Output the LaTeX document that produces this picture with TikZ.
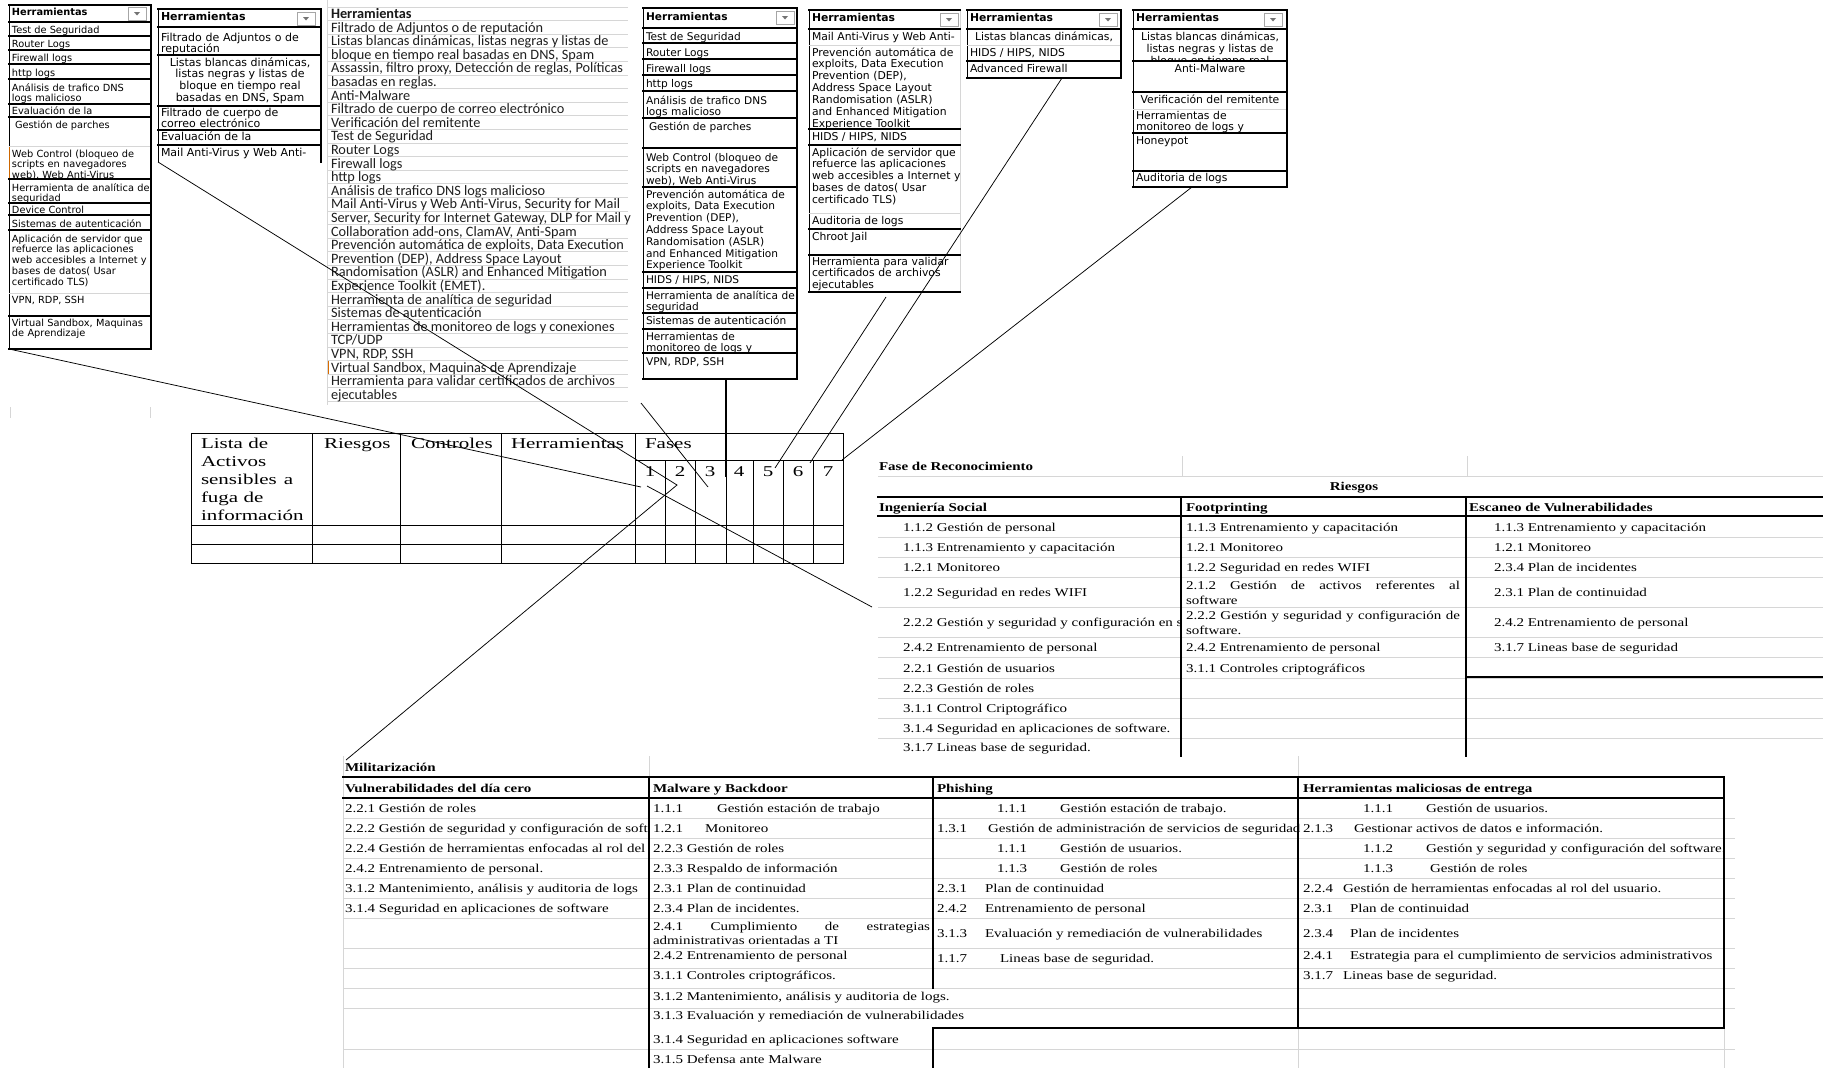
\documentclass[tikz,border=0pt]{standalone}
\usepackage{fontspec}
\setmainfont{Liberation Serif}
\newfontfamily\pf{DejaVu Sans}
\newfontfamily\cf{Carlito}
\newfontfamily\rtf[FakeStretch=1.25]{Liberation Serif}
\newfontfamily\ctf[FakeStretch=1.4]{Liberation Serif}
\newcounter{nn}
\newcommand\tx[4][]{\stepcounter{nn}\edef\nname{n\arabic{nn}}\node[txt,#1] (\nname) at ({#2},{#3}) {#4};}
\newcommand\ddb[2]{\draw[draw=black!35,fill=white,line width=0.6pt] (#1,#2) rectangle ++(18,13);
  \fill[black!55] ({#1+6},{#2+5}) -- ++(6,0) -- ++(-3,3.5) -- cycle;}
\tikzset{
  txt/.style={anchor=base west,inner sep=0pt,outer sep=0pt},
  ml/.style={text width=300pt,align=left},
  thk/.style={line width=1.5pt,line cap=rect},
  thk2/.style={line width=2pt,line cap=rect},
  thn/.style={line width=0.8pt},
  gl/.style={draw=black!16,line width=0.7pt},
  conn/.style={line width=0.75pt,draw=black},
  p1/.style={font=\pf\fontsize{9.8}{10.9}\selectfont},
  p1b/.style={font=\pf\bfseries\fontsize{9.8}{10.9}\selectfont},
  p2/.style={font=\pf\fontsize{11}{11.8}\selectfont},
  p2b/.style={font=\pf\bfseries\fontsize{11}{11.8}\selectfont},
  p4/.style={font=\pf\fontsize{10.6}{11.8}\selectfont},
  p4b/.style={font=\pf\bfseries\fontsize{10.6}{11.8}\selectfont},
  p5/.style={font=\pf\fontsize{10.8}{11.9}\selectfont},
  p5b/.style={font=\pf\bfseries\fontsize{10.8}{11.9}\selectfont},
  p3/.style={font=\cf\fontsize{14.3}{16}\selectfont,text=black!88},
  p3b/.style={font=\cf\bfseries\fontsize{14.3}{16}\selectfont,text=black!90},
  rt/.style={font=\rtf\fontsize{12}{15}\selectfont},
  rtb/.style={font=\rtf\bfseries\fontsize{12}{15}\selectfont},
  ct/.style={font=\ctf\fontsize{15}{18}\selectfont},
}
\begin{document}
\begin{tikzpicture}[x=1pt,y=-1pt]
\fill[white] (0,0) rectangle (1823,1068);
\useasboundingbox (0,0) rectangle (1823,1068);

% ---------------- Panel 1 ----------------
\draw[gl] (10,407) -- (10,418); \draw[gl] (150,407) -- (150,418);
\draw[thn] (9,5) -- (9,349);
\draw[orange!80!black,line width=1pt] (9,146) -- (9,179);
\foreach \y in {146,293} \draw[gl] (9,\y) -- (151,\y);
\foreach \y in {5,22,36,50,64,79,104,117,179,203,215,230,316,349} \draw[thk] (9,\y) -- (151,\y);
\draw[thk] (151,5) -- (151,349);
\ddb{128}{7}
\tx[p1b]{12}{16}{Herramientas}
\tx[p1]{12}{33}{Test de Seguridad}
\tx[p1]{12}{47}{Router Logs}
\tx[p1]{12}{61}{Firewall logs}
\tx[p1]{12}{76}{http logs}
\tx[p1,ml]{12}{91}{Análisis de trafico DNS\\logs malicioso}
\tx[p1]{12}{114}{Evaluación de la}
\tx[p1]{15}{128}{Gestión de parches}
\tx[p1,ml]{12}{157}{Web Control (bloqueo de\\scripts en navegadores\\web), Web Anti-Virus}
\tx[p1,ml]{12}{191}{Herramienta de analítica de\\seguridad}
\tx[p1]{12}{213}{Device Control}
\tx[p1]{12}{227}{Sistemas de autenticación}
\tx[p1,ml]{12}{242}{Aplicación de servidor que\\refuerce las aplicaciones\\web accesibles a Internet y\\bases de datos( Usar\\certificado TLS)}
\tx[p1]{12}{303}{VPN, RDP, SSH}
\tx[p1,ml]{12}{326}{Virtual Sandbox, Maquinas\\de Aprendizaje}

% ---------------- Panel 2 ----------------
\draw[thn] (158,9) -- (158,162);
\foreach \y in {9,27,55,106,130,145} \draw[thk] (158,\y) -- (321,\y);
\draw[thk] (321,9) -- (321,162);
\ddb{297}{12}
\tx[p2b]{161}{20}{Herramientas}
\tx[p2,ml]{161}{41}{Filtrado de Adjuntos o de\\reputación}
\foreach \t [count=\i from 0] in {{Listas blancas dinámicas,},{listas negras y listas de},{bloque en tiempo real},{basadas en DNS, Spam}} {\tx[p2,anchor=base]{240}{66+11.8*\i}{\t}}
\tx[p2,ml]{161}{116}{Filtrado de cuerpo de\\correo electrónico}
\tx[p2]{161}{140}{Evaluación de la}
\tx[p2]{161}{156}{Mail Anti-Virus y Web Anti-}

% ---------------- Panel 3 ----------------
\draw[gl] (327,0) -- (327,405);
\foreach \i in {0,...,29} \draw[gl] (327,{7+13.6*\i}) -- (628,{7+13.6*\i});
\draw[orange!85!black,line width=1pt] (328,{7+13.6*26}) -- (328,{7+13.6*27});
\tx[p3b]{331}{18.5}{Herramientas}
\foreach \t [count=\i] in {
 {Filtrado de Adjuntos o de reputación},
 {Listas blancas dinámicas, listas negras y listas de},
 {bloque en tiempo real basadas en DNS, Spam},
 {Assassin, filtro proxy, Detección de reglas, Políticas},
 {basadas en reglas.},
 {Anti-Malware},
 {Filtrado de cuerpo de correo electrónico},
 {Verificación del remitente},
 {Test de Seguridad},
 {Router Logs},
 {Firewall logs},
 {http logs},
 {Análisis de trafico DNS logs malicioso},
 {Mail Anti-Virus y Web Anti-Virus, Security for Mail},
 {Server, Security for Internet Gateway, DLP for Mail y},
 {Collaboration add-ons, ClamAV, Anti-Spam},
 {Prevención automática de exploits, Data Execution},
 {Prevention (DEP), Address Space Layout},
 {Randomisation (ASLR) and Enhanced Mitigation},
 {Experience Toolkit (EMET).},
 {Herramienta de analítica de seguridad},
 {Sistemas de autenticación},
 {Herramientas de monitoreo de logs y conexiones},
 {TCP/UDP},
 {VPN, RDP, SSH},
 {Virtual Sandbox, Maquinas de Aprendizaje},
 {Herramienta para validar certificados de archivos},
 {ejecutables}} {\tx[p3]{331}{18.5+13.6*\i}{\t}}

% ---------------- Panel 4 ----------------
\draw[thn] (643,8) -- (643,379);
\foreach \y in {8,28,43,59,75,91,118,148,187,272,288,313,329,353,379} \draw[thk] (643,\y) -- (797,\y);
\draw[thk] (797,8) -- (797,379);
\ddb{776}{11}
\tx[p4b]{646}{20}{Herramientas}
\tx[p4]{646}{40}{Test de Seguridad}
\tx[p4]{646}{56}{Router Logs}
\tx[p4]{646}{72}{Firewall logs}
\tx[p4]{646}{87}{http logs}
\tx[p4,ml]{646}{104}{Análisis de trafico DNS\\logs malicioso}
\tx[p4]{649}{130}{Gestión de parches}
\tx[p4,ml]{646}{161}{Web Control (bloqueo de\\scripts en navegadores\\web), Web Anti-Virus}
\tx[p4,ml]{646}{198}{Prevención automática de\\exploits, Data Execution\\Prevention (DEP),\\Address Space Layout\\Randomisation (ASLR)\\and Enhanced Mitigation\\Experience Toolkit}
\tx[p4]{646}{283}{HIDS / HIPS, NIDS}
\tx[p4,ml]{646}{299}{Herramienta de analítica de\\seguridad}
\tx[p4]{646}{324}{Sistemas de autenticación}
\tx[p4,ml]{646}{340}{Herramientas de\\monitoreo de logs y}
\tx[p4]{646}{365}{VPN, RDP, SSH}

% ---------------- Panel 5 ----------------
\draw[thn] (809,10) -- (809,292);
\draw[gl] (960,10) -- (960,292);
\foreach \y in {45,213} \draw[gl] (809,\y) -- (960,\y);
\foreach \y in {10,29,129,145,229,255,292} \draw[thk] (809,\y) -- (960,\y);
\ddb{940}{13}
\tx[p5b]{812}{21}{Herramientas}
\tx[p5]{812}{40}{Mail Anti-Virus y Web Anti-}
\tx[p5,ml]{812}{56}{Prevención automática de\\exploits, Data Execution\\Prevention (DEP),\\Address Space Layout\\Randomisation (ASLR)\\and Enhanced Mitigation\\Experience Toolkit}
\tx[p5]{812}{140}{HIDS / HIPS, NIDS}
\tx[p5,ml]{812}{156}{Aplicación de servidor que\\refuerce las aplicaciones\\web accesibles a Internet y\\bases de datos( Usar\\certificado TLS)}
\tx[p5]{812}{224}{Auditoria de logs}
\tx[p5]{812}{240}{Chroot Jail}
\tx[p5,ml]{812}{265}{Herramienta para validar\\certificados de archivos\\ejecutables}

% ---------------- Panel 6 ----------------
\draw[thn] (967,10) -- (967,78);
\draw[gl] (967,45) -- (1121,45);
\foreach \y in {10,29,61,78} \draw[thk] (967,\y) -- (1121,\y);
\draw[thk] (1121,10) -- (1121,78);
\ddb{1099}{13}
\tx[p5b]{970}{21}{Herramientas}
\tx[p5,anchor=base]{1044}{40}{Listas blancas dinámicas,}
\tx[p5]{970}{56}{HIDS / HIPS, NIDS}
\tx[p5]{970}{72}{Advanced Firewall}

% ---------------- Panel 7 ----------------
\draw[thn] (1133,10) -- (1133,187);
\draw[gl] (1133,109) -- (1287,109);
\foreach \y in {10,29,61,92,133,171,187} \draw[thk] (1133,\y) -- (1287,\y);
\draw[thk] (1287,10) -- (1287,187);
\ddb{1264}{13}
\tx[p5b]{1136}{21}{Herramientas}
\begin{scope}
\clip (1133,30) rectangle (1287,60);
\tx[p5,anchor=base]{1210}{40}{Listas blancas dinámicas,}
\tx[p5,anchor=base]{1210}{52}{listas negras y listas de}
\tx[p5,anchor=base]{1210}{64}{bloque en tiempo real}
\end{scope}
\tx[p5,anchor=base]{1210}{72}{Anti-Malware}
\tx[p5,anchor=base]{1210}{103}{Verificación del remitente}
\tx[p5,ml]{1136}{119}{Herramientas de\\monitoreo de logs y}
\tx[p5]{1136}{144}{Honeypot}
\tx[p5]{1136}{181}{Auditoria de logs}

% ---------------- Central table ----------------
\draw[thn] (191,433) rectangle (843,563);
\foreach \x in {312,400,501,635} \draw[thn] (\x,433) -- (\x,563);
\draw[thn] (635,460) -- (843,460);
\foreach \x in {665,695,726,753,783,813} \draw[thn] (\x,460) -- (\x,563);
\draw[thn] (191,525) -- (843,525);
\draw[thn] (191,544) -- (843,544);
\tx[ct]{201}{448}{Lista de}
\tx[ct]{201}{466}{Activos}
\tx[ct]{201}{484}{sensibles\hspace{7pt}a}
\tx[ct]{201}{502}{fuga de}
\tx[ct]{201}{520}{información}
\tx[ct]{324}{448}{Riesgos}
\tx[ct]{411}{448}{Controles}
\tx[ct]{511}{448}{Herramientas}
\tx[ct]{645}{448}{Fases}
\foreach \n/\x in {1/650,2/680,3/710,4/739,5/768,6/798,7/828} {\tx[ct,anchor=base]{\x}{476}{\n}}

% ---------------- Right table ----------------
\draw[gl] (878,476) -- (1823,476);
\draw[gl] (1182,456) -- (1182,476);
\draw[gl] (1467,456) -- (1467,476);
\foreach \y in {537,557,577,607,637,657,678,698,718,738} \draw[gl] (878,\y) -- (1823,\y);
\draw[thk2] (878,497) -- (1823,497);
\draw[thk2] (878,516) -- (1823,516);
\draw[thk2] (1181,497) -- (1181,756);
\draw[thk2] (1466,497) -- (1466,756);
\draw[thk2] (1466,677) -- (1823,677);
\tx[rtb]{879}{470}{Fase de Reconocimiento}
\tx[rtb,anchor=base]{1354}{490}{Riesgos}
\tx[rtb]{879}{511}{Ingeniería Social}
\tx[rtb]{1186}{511}{Footprinting}
\tx[rtb]{1469}{511}{Escaneo de Vulnerabilidades}
\tx[rt]{903}{531}{1.1.2 Gestión de personal}
\tx[rt]{903}{551}{1.1.3 Entrenamiento y capacitación}
\tx[rt]{903}{571}{1.2.1 Monitoreo}
\tx[rt]{903}{596}{1.2.2 Seguridad en redes WIFI}
\begin{scope}
\clip (878,608) rectangle (1179,636);
\tx[rt]{903}{626}{2.2.2 Gestión y seguridad y configuración en s}
\end{scope}
\tx[rt]{903}{651}{2.4.2 Entrenamiento de personal}
\tx[rt]{903}{672}{2.2.1 Gestión de usuarios}
\tx[rt]{903}{692}{2.2.3 Gestión de roles}
\tx[rt]{903}{712}{3.1.1 Control Criptográfico}
\tx[rt]{903}{732}{3.1.4 Seguridad en aplicaciones de software.}
\tx[rt]{903}{751}{3.1.7 Lineas base de seguridad.}
\tx[rt]{1186}{531}{1.1.3 Entrenamiento y capacitación}
\tx[rt]{1186}{551}{1.2.1 Monitoreo}
\tx[rt]{1186}{571}{1.2.2 Seguridad en redes WIFI}
\tx[rt]{1186}{589}{\makebox[274pt][s]{2.1.2 Gestión de activos referentes al}}
\tx[rt]{1186}{604}{software}
\tx[rt]{1186}{619}{\makebox[274pt][s]{2.2.2 Gestión y seguridad y configuración de}}
\tx[rt]{1186}{634}{software.}
\tx[rt]{1186}{651}{2.4.2 Entrenamiento de personal}
\tx[rt]{1186}{672}{3.1.1 Controles criptográficos}
\tx[rt]{1494}{531}{1.1.3 Entrenamiento y capacitación}
\tx[rt]{1494}{551}{1.2.1 Monitoreo}
\tx[rt]{1494}{571}{2.3.4 Plan de incidentes}
\tx[rt]{1494}{596}{2.3.1 Plan de continuidad}
\tx[rt]{1494}{626}{2.4.2 Entrenamiento de personal}
\tx[rt]{1494}{651}{3.1.7 Lineas base de seguridad}

% ---------------- Bottom table ----------------
\draw[gl] (343,756) -- (343,1068);
\draw[gl] (649,756) -- (649,777);
\draw[gl] (1298,756) -- (1298,777);
\foreach \y in {818,838,858,878,898,918,948,968,988,1008,1049} \draw[gl] (343,\y) -- (1735,\y);
\draw[gl] (1298,1028) -- (1298,1068);
\draw[gl] (1724,1028) -- (1724,1068);
\draw[thk2] (343,777) -- (1724,777);
\draw[thk2] (343,798) -- (1724,798);
\draw[thk2] (649,777) -- (649,1068);
\draw[thk2] (933,777) -- (933,988);
\draw[thk2] (933,1028) -- (933,1068);
\draw[thk2] (1298,777) -- (1298,1028);
\draw[thk2] (1724,777) -- (1724,1028);
\draw[thk2] (933,1028) -- (1724,1028);
\tx[rtb]{345}{771}{Militarización}
\tx[rtb]{345}{792}{Vulnerabilidades del día cero}
\tx[rtb]{653}{792}{Malware y Backdoor}
\tx[rtb]{937}{792}{Phishing}
\tx[rtb]{1303}{792}{Herramientas maliciosas de entrega}
\begin{scope}
\clip (343,799) rectangle (647,1068);
\tx[rt]{345}{812}{2.2.1 Gestión de roles}
\tx[rt]{345}{832}{2.2.2 Gestión de seguridad y configuración de soft}
\tx[rt]{345}{852}{2.2.4 Gestión de herramientas enfocadas al rol del}
\tx[rt]{345}{872}{2.4.2 Entrenamiento de personal.}
\tx[rt]{345}{892}{3.1.2 Mantenimiento, análisis y auditoria de logs}
\tx[rt]{345}{912}{3.1.4 Seguridad en aplicaciones de software}
\end{scope}
\tx[rt]{653}{812}{1.1.1}\tx[rt]{717}{812}{Gestión estación de trabajo}
\tx[rt]{653}{832}{1.2.1}\tx[rt]{705}{832}{Monitoreo}
\tx[rt]{653}{852}{2.2.3 Gestión de roles}
\tx[rt]{653}{872}{2.3.3 Respaldo de información}
\tx[rt]{653}{892}{2.3.1 Plan de continuidad}
\tx[rt]{653}{912}{2.3.4 Plan de incidentes.}
\tx[rt]{653}{930}{\makebox[277pt][s]{2.4.1 Cumplimiento de estrategias}}
\tx[rt]{653}{944}{administrativas orientadas a TI}
\tx[rt]{653}{959}{2.4.2 Entrenamiento de personal}
\tx[rt]{653}{979}{3.1.1 Controles criptográficos.}
\tx[rt]{653}{1000}{3.1.2 Mantenimiento, análisis y auditoria de logs.}
\tx[rt]{653}{1019}{3.1.3 Evaluación y remediación de vulnerabilidades}
\tx[rt]{653}{1043}{3.1.4 Seguridad en aplicaciones software}
\tx[rt]{653}{1063}{3.1.5 Defensa ante Malware}
\tx[rt]{997}{812}{1.1.1}\tx[rt]{1060}{812}{Gestión estación de trabajo.}
\tx[rt]{937}{832}{1.3.1}\tx[rt]{988}{832}{Gestión de administración de servicios de seguridad}
\tx[rt]{997}{852}{1.1.1}\tx[rt]{1060}{852}{Gestión de usuarios.}
\tx[rt]{997}{872}{1.1.3}\tx[rt]{1060}{872}{Gestión de roles}
\tx[rt]{937}{892}{2.3.1}\tx[rt]{985}{892}{Plan de continuidad}
\tx[rt]{937}{912}{2.4.2}\tx[rt]{985}{912}{Entrenamiento de personal}
\tx[rt]{937}{937}{3.1.3}\tx[rt]{985}{937}{Evaluación y remediación de vulnerabilidades}
\tx[rt]{937}{962}{1.1.7}\tx[rt]{1000}{962}{Lineas base de seguridad.}
\tx[rt]{1363}{812}{1.1.1}\tx[rt]{1426}{812}{Gestión de usuarios.}
\tx[rt]{1303}{832}{2.1.3}\tx[rt]{1354}{832}{Gestionar activos de datos e información.}
\tx[rt]{1363}{852}{1.1.2}\tx[rt]{1426}{852}{Gestión y seguridad y configuración del software.}
\tx[rt]{1363}{872}{1.1.3}\tx[rt]{1430}{872}{Gestión de roles}
\tx[rt]{1303}{892}{2.2.4}\tx[rt]{1343}{892}{Gestión de herramientas enfocadas al rol del usuario.}
\tx[rt]{1303}{912}{2.3.1}\tx[rt]{1350}{912}{Plan de continuidad}
\tx[rt]{1303}{937}{2.3.4}\tx[rt]{1350}{937}{Plan de incidentes}
\tx[rt]{1303}{959}{2.4.1}\tx[rt]{1350}{959}{Estrategia para el cumplimiento de servicios administrativos}
\tx[rt]{1303}{979}{3.1.7}\tx[rt]{1343}{979}{Lineas base de seguridad.}

% ---------------- Connectors ----------------
\coordinate (p1c) at (9,349);
\coordinate (e1) at (641,487);
\coordinate (r1) at (647,486);
\coordinate (rtc) at (872,607);
\coordinate (p2c) at (158,162);
\coordinate (e2) at (677,485);
\coordinate (mil) at (346,760);
\coordinate (s3) at (641,403);
\coordinate (e3) at (708,487);
\coordinate (p4c) at (726,379);
\coordinate (e4) at (726,477);
\coordinate (s5) at (886,297);
\coordinate (e5) at (775,468);
\coordinate (p6c) at (1062,78);
\coordinate (e6) at (810,463);
\coordinate (p7c) at (1192,187);
\coordinate (e7) at (842,460);
\draw[conn] (p1c) -- (e1);
\draw[conn] (r1) -- (rtc);
\draw[conn] (p2c) -- (e2) -- (mil);
\draw[conn] (s3) -- (e3);
\draw[conn,line width=1.4pt] (p4c) -- (e4);
\draw[conn] (s5) -- (e5);
\draw[conn] (p6c) -- (e6);
\draw[conn] (p7c) -- (e7);
\end{tikzpicture}
\end{document}
